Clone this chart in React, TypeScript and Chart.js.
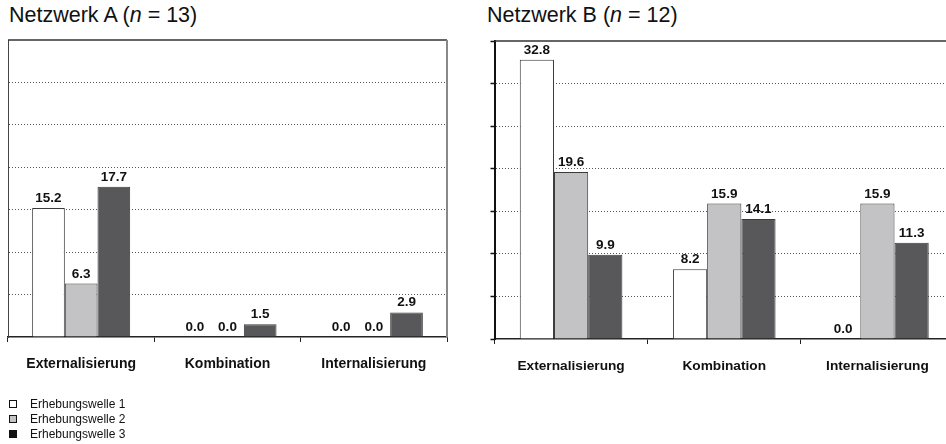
import React, { useEffect, useRef } from "react";
import { Chart, registerables } from "chart.js";

Chart.register(...registerables);

// ---- data ----
const categories = ["Externalisierung", "Kombination", "Internalisierung"];
const seriesLabels = ["Erhebungswelle 1", "Erhebungswelle 2", "Erhebungswelle 3"];

const netzwerkA_welle1 = [15.2, 0.0, 0.0];
const netzwerkA_welle2 = [6.3, 0.0, 0.0];
const netzwerkA_welle3 = [17.7, 1.5, 2.9];

const netzwerkB_welle1 = [32.8, 8.2, 0.0];
const netzwerkB_welle2 = [19.6, 15.9, 15.9];
const netzwerkB_welle3 = [9.9, 14.1, 11.3];

const yMin = 0;
const yMax = 35;
const yStep = 5;

// ---- styles ----
const FONT = "'Liberation Sans', Arial, Helvetica, sans-serif";
const barColors = ["#ffffff", "#c3c3c5", "#58585a"];
const legendColors = ["#ffffff", "#c3c3c5", "#111111"];
const barBorder = "#3a3a3a";

const valueLabels = {
  id: "valueLabels",
  afterDatasetsDraw(chart: any) {
    const { ctx } = chart;
    ctx.save();
    ctx.font = `bold 13.5px ${FONT}`;
    ctx.fillStyle = "#111";
    ctx.textAlign = "center";
    ctx.textBaseline = "alphabetic";
    chart.data.datasets.forEach((ds: any, di: number) => {
      const meta = chart.getDatasetMeta(di);
      meta.data.forEach((el: any, i: number) => {
        const v = ds.data[i] as number;
        ctx.fillText(v.toFixed(1), el.x, el.y - 6);
      });
    });
    ctx.restore();
  },
};

const frame = {
  id: "frame",
  afterDraw(chart: any, _args: any, opts: any) {
    const { ctx, chartArea } = chart;
    ctx.save();
    if (opts.top) {
      ctx.strokeStyle = "#333";
      ctx.lineWidth = 1.5;
      ctx.beginPath();
      ctx.moveTo(chartArea.left, chartArea.top);
      ctx.lineTo(chartArea.right, chartArea.top);
      ctx.stroke();
    }
    if (opts.right === true) {
      ctx.strokeStyle = "#888";
      ctx.lineWidth = 2;
      ctx.beginPath();
      ctx.moveTo(chartArea.right, chartArea.top);
      ctx.lineTo(chartArea.right, chartArea.bottom);
      ctx.stroke();
    }
    ctx.restore();
  },
};

interface PanelOpts {
  padding: { left: number; right: number; top: number; bottom: number };
  xHeight: number;
  yTicks: boolean;
  yBorderColor: string;
  yBorderWidth: number;
  rightFrame: boolean;
  labelSize: number;
  labelPadding: number;
}

function makeConfig(series: number[][], o: PanelOpts): any {
  return {
    type: "bar",
    data: {
      labels: categories,
      datasets: series.map((d, i) => ({
        label: seriesLabels[i],
        data: d,
        backgroundColor: barColors[i],
        borderColor: barBorder,
        borderWidth: 1,
        barPercentage: 1,
        categoryPercentage: 0.67,
      })),
    },
    options: {
      responsive: false,
      animation: false,
      events: [],
      layout: { padding: o.padding },
      plugins: {
        legend: { display: false },
        tooltip: { enabled: false },
        title: { display: false },
        frame: { top: true, right: o.rightFrame },
      },
      scales: {
        x: {
          offset: true,
          grid: {
            offset: true,
            drawOnChartArea: false,
            drawTicks: true,
            tickLength: 5,
            tickColor: "#222",
            tickWidth: 1,
          },
          border: { display: true, color: "#222", width: 1.5 },
          ticks: {
            color: "#111",
            padding: o.labelPadding,
            font: { family: FONT, size: o.labelSize, weight: "bold" },
            maxRotation: 0,
          },
          afterFit: (scale: any) => {
            scale.height = o.xHeight;
          },
        },
        y: {
          min: yMin,
          max: yMax,
          ticks: { display: false, stepSize: yStep },
          grid: {
            color: (c: any) =>
              c.tick && (c.tick.value === yMin || c.tick.value === yMax) ? "rgba(0,0,0,0)" : "#555",
            lineWidth: 1,
            drawTicks: o.yTicks,
            tickLength: 4,
            tickColor: "#111",
            tickWidth: 1.5,
          },
          border: { display: true, color: o.yBorderColor, width: o.yBorderWidth, dash: [1, 2] },
        },
      },
    },
    plugins: [valueLabels, frame],
  };
}

function ChartCanvas({ series, width, height, opts }: { series: number[][]; width: number; height: number; opts: PanelOpts }) {
  const ref = useRef<HTMLCanvasElement | null>(null);
  useEffect(() => {
    if (!ref.current) return;
    const chart = new Chart(ref.current, makeConfig(series, opts));
    return () => chart.destroy();
  }, []);
  return <canvas ref={ref} width={width} height={height} style={{ width, height, display: "block" }} />;
}

const titleStyle: React.CSSProperties = {
  position: "absolute",
  top: 5,
  fontFamily: FONT,
  fontSize: 21.5,
  lineHeight: "21px",
  color: "#111",
  whiteSpace: "nowrap",
};

export default function App() {
  return (
    <div
      style={{
        position: "fixed",
        left: 0,
        top: 0,
        width: 946,
        height: 444,
        overflow: "hidden",
        background: "#ffffff",
        fontFamily: FONT,
      }}
    >
      <div style={{ ...titleStyle, left: 9 }}>
        Netzwerk A (<i>n</i> = 13)
      </div>
      <div style={{ ...titleStyle, left: 487 }}>
        Netzwerk B (<i>n</i> = 12)
      </div>

      <div style={{ position: "absolute", left: 0, top: 0, width: 470, height: 444 }}>
        <ChartCanvas
          series={[netzwerkA_welle1, netzwerkA_welle2, netzwerkA_welle3]}
          width={470}
          height={444}
          opts={{
            padding: { left: 8, right: 23, top: 40, bottom: 0 },
            xHeight: 107,
            yTicks: false,
            yBorderColor: "#444",
            yBorderWidth: 1,
            rightFrame: true,
            labelSize: 14,
            labelPadding: 13.5,
          }}
        />
      </div>

      <div style={{ position: "absolute", left: 470, top: 0, width: 476, height: 444, overflow: "hidden" }}>
        <ChartCanvas
          series={[netzwerkB_welle1, netzwerkB_welle2, netzwerkB_welle3]}
          width={530}
          height={444}
          opts={{
            padding: { left: 20.5, right: 46, top: 41, bottom: 0 },
            xHeight: 105,
            yTicks: true,
            yBorderColor: "#111",
            yBorderWidth: 2,
            rightFrame: false,
            labelSize: 13.7,
            labelPadding: 14.5,
          }}
        />
      </div>

      <div style={{ position: "absolute", left: 9, top: 397, fontFamily: FONT, fontSize: 12, color: "#111" }}>
        {seriesLabels.map((s, i) => (
          <div key={s} style={{ display: "flex", alignItems: "center", height: 14.8, lineHeight: "14.8px" }}>
            <span
              style={{
                display: "inline-block",
                width: 6,
                height: 6,
                border: "1px solid #111",
                background: legendColors[i],
                marginRight: 13,
              }}
            />
            <span>{s}</span>
          </div>
        ))}
      </div>
    </div>
  );
}
